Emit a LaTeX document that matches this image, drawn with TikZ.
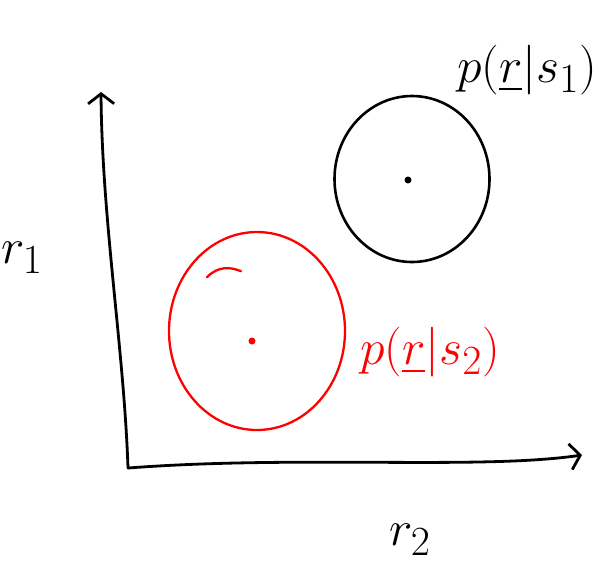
\documentclass[tikz,border=0pt]{standalone}
\usepackage{amsmath, amssymb}
\usepackage{xcolor}
\usetikzlibrary{
  arrows.meta,
  positioning,
  shapes.geometric,
  calc,
}
\definecolor{inkred}{HTML}{FF0000}

\begin{document}
\begin{tikzpicture}[
    x=1pt, y=-1pt,
    blob/.style={ellipse, draw, line width=2.6pt, inner sep=0pt},
    mean/.style={circle, fill, inner sep=0pt, minimum size=7pt},
    lbl/.style={font=\Huge, scale=2, inner sep=0pt},
    axis/.style={line width=2.8pt, line cap=round,
      -{Straight Barb[length=10pt, width=26pt, line width=2.8pt]}},
  ]
  \useasboundingbox (0,0) rectangle (604,566);

  % axes
  \coordinate (O) at (128,468);
  \coordinate (ytip) at (101,92);
  \coordinate (xtip) at (582,455);
  \draw[axis] (O) .. controls (124,350) and (102,220) .. (ytip);
  \draw[axis] (O) .. controls (300,455) and (480,470) .. (xtip);

  % the two densities
  \node[blob, minimum width=155pt, minimum height=166pt] (c1) at (412,179) {};
  \node[mean] (m1) at (408,180) {};
  \node[blob, draw=inkred, line width=2.3pt, minimum width=176pt, minimum height=198pt] (c2) at (257,331) {};
  \node[mean, fill=inkred] (m2) at (252,341) {};
  \draw[inkred, line width=2.3pt, line cap=round] (c2.north west) ++(13,17) .. controls +(12,-12) and +(-10,-4) .. ++(34,-6);

  % labels
  \node[lbl] (p1) at (527,70) {$p(\underline{r}|s_1)$};
  \node[lbl, text=inkred] (p2) at (430,352) {$p(\underline{r}|s_2)$};
  \node[lbl] (r1) at (22,258) {$r_1$};
  \node[lbl] (r2) at (410,540) {$r_2$};
\end{tikzpicture}
\end{document}
